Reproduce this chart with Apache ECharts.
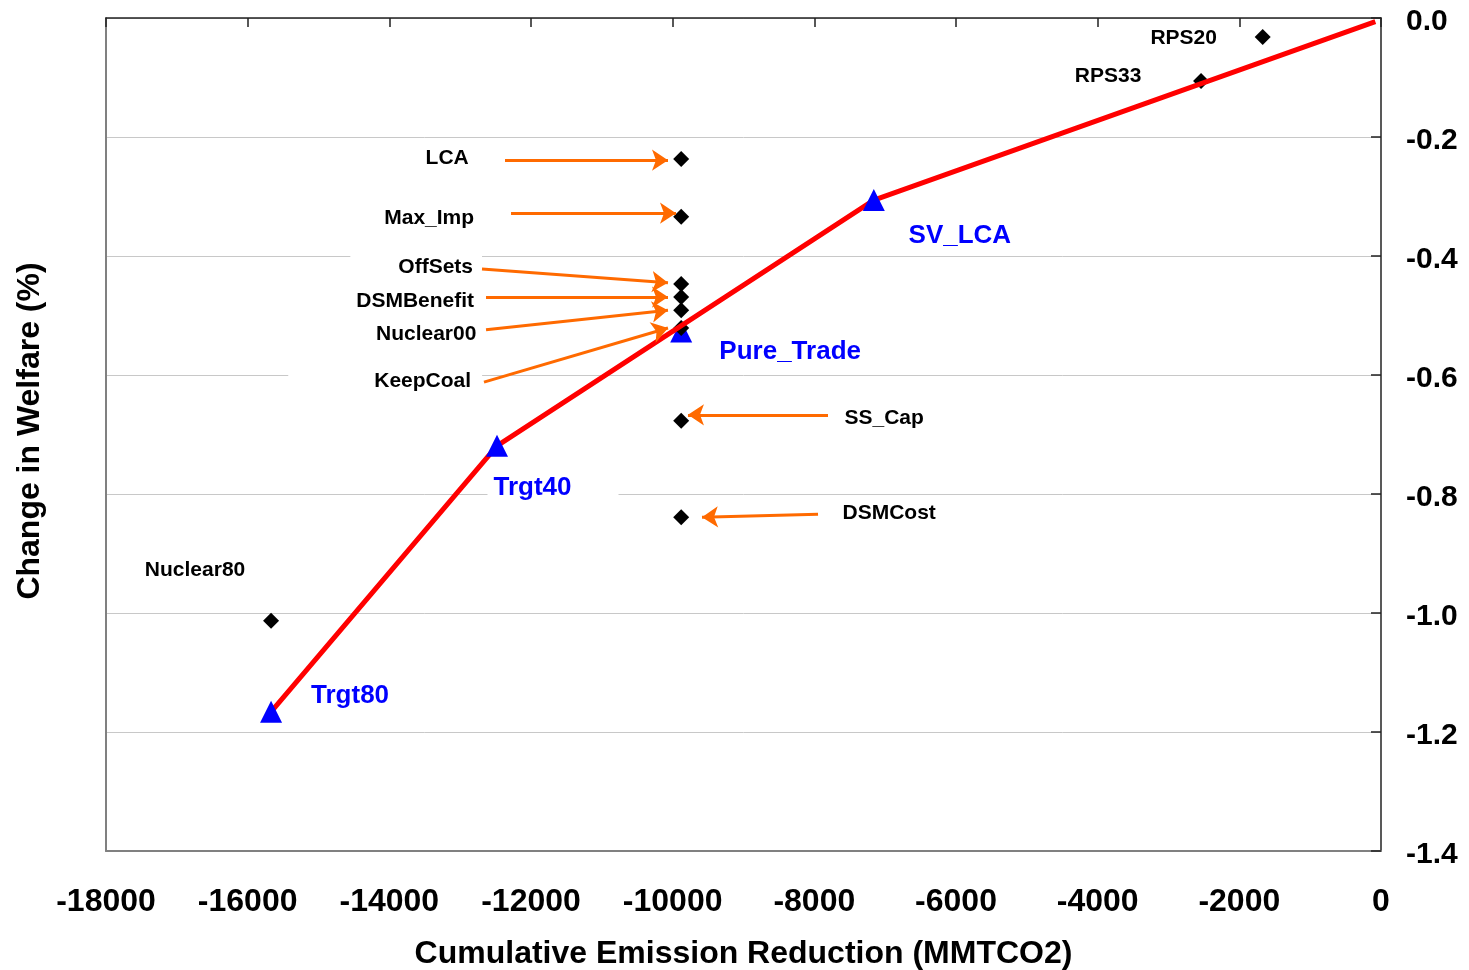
<!DOCTYPE html>
<html>
<head>
<meta charset="utf-8">
<script src="https://cdn.jsdelivr.net/npm/echarts@6/dist/echarts.min.js"></script>
<style>
html,body{margin:0;padding:0;background:#fff;}
#chart{width:1469px;height:970px;}
</style>
</head>
<body>
<div id="chart"></div>
<script>
// ---- Data ----
const xTickValues = [-18000, -16000, -14000, -12000, -10000, -8000, -6000, -4000, -2000, 0];
const yTickValues = [-1.4, -1.2, -1.0, -0.8, -0.6, -0.4, -0.2, 0.0];

// Red line path (target scenarios + end point)
const lineNames = ['Trgt80', 'Trgt40', 'SV_LCA', ''];
const lineX = [-15670, -12480, -7160, -80];
const lineY = [-1.166, -0.719, -0.306, -0.006];

// Separate triangle scenario
const pureNames = ['Pure_Trade'];
const pureX = [-9880];
const pureY = [-0.527];

// Diamond scenarios
const diaNames = ['RPS20', 'RPS33', 'LCA', 'Max_Imp', 'OffSets', 'DSMBenefit', 'Nuclear00', 'KeepCoal', 'SS_Cap', 'DSMCost', 'Nuclear80'];
const diaX = [-1670, -2540, -9880, -9880, -9880, -9880, -9880, -9880, -9880, -9880, -15670];
const diaY = [-0.032, -0.106, -0.237, -0.334, -0.447, -0.469, -0.491, -0.521, -0.677, -0.839, -1.013];

// Annotation arrows (from label to point), in data units
const arrowNames = ['LCA', 'Max_Imp', 'OffSets', 'DSMBenefit', 'Nuclear00', 'KeepCoal', 'SS_Cap', 'DSMCost'];
const arrowFromX = [-12367, -12282, -12692, -12635, -12635, -12664, -7807, -7948];
const arrowFromY = [-0.239, -0.328, -0.422, -0.469, -0.524, -0.612, -0.667, -0.834];
const arrowToX = [-10066, -9953, -10066, -10066, -10066, -10066, -9784, -9586];
const arrowToY = [-0.239, -0.328, -0.445, -0.469, -0.491, -0.521, -0.667, -0.839];

// ---- Styles ----
const FONT = '"Liberation Sans", Arial, Helvetica, sans-serif';
const BLUE = '#0000FF';
const RED = '#FF0000';
const ORANGE = '#FF6A00';

const labelStyles = {
  RPS20: {offset: [-79, 1]},
  RPS33: {offset: [-93, -5]},
  LCA: {offset: [-234, -1]},
  Max_Imp: {offset: [-252, 1]},
  OffSets: {offset: [-265, -17], padding: [3, 9, 3, 48], bg: true},
  DSMBenefit: {offset: [-266, 4]},
  Nuclear00: {offset: [-255, 24]},
  KeepCoal: {offset: [-296, 53], padding: [3, 11, 3, 86], bg: true},
  SS_Cap: {offset: [203, -3]},
  DSMCost: {offset: [208, -4]},
  Nuclear80: {offset: [-76, -51]},
  Trgt80: {offset: [79, -16]},
  Trgt40: {offset: [56, 42], padding: [7, 47, 2, 6], bg: true},
  Pure_Trade: {offset: [109, 20]},
  SV_LCA: {offset: [92, 36], padding: [2, 20, 10, 8], bg: true}
};

function makeLabel(name, color, size) {
  const s = labelStyles[name] || {offset: [0, 0]};
  const lbl = {
    show: true,
    position: 'inside',
    formatter: name,
    offset: s.offset,
    color: color,
    opacity: 1,
    fontSize: size,
    fontWeight: 'bold',
    fontFamily: FONT
  };
  if (s.bg) {
    lbl.backgroundColor = '#ffffff';
    lbl.padding = s.padding;
  }
  return lbl;
}

const lineData = lineX.map((x, i) => [x, lineY[i]]);
const triData = lineNames.slice(0, 3).map((n, i) => ({
  name: n, value: [lineX[i], lineY[i]], label: makeLabel(n, BLUE, 26)
}));
const pureData = pureNames.map((n, i) => ({
  name: n, value: [pureX[i], pureY[i]], label: makeLabel(n, BLUE, 26)
}));
const diaData = diaNames.map((n, i) => ({
  name: n, value: [diaX[i], diaY[i]], label: makeLabel(n, '#000', 21)
}));
const arrowData = arrowNames.map((n, i) => ({
  name: n, coords: [[arrowFromX[i], arrowFromY[i]], [arrowToX[i], arrowToY[i]]]
}));

const chart = echarts.init(document.getElementById('chart'), null, {renderer: 'canvas'});

const xCommon = {type: 'value', min: xTickValues[0], max: xTickValues[xTickValues.length - 1], interval: 2000};
const yCommon = {type: 'value', min: yTickValues[0], max: yTickValues[yTickValues.length - 1], interval: 0.2};

chart.setOption({
  animation: false,
  backgroundColor: '#ffffff',
  grid: {left: 106, right: 88, top: 18, bottom: 119, containLabel: false, outerBoundsMode: 'none'},
  xAxis: [
    Object.assign({}, xCommon, {
      position: 'bottom',
      axisLine: {show: true, onZero: false, lineStyle: {color: '#808080', width: 2}},
      axisTick: {show: false},
      splitLine: {show: false},
      axisLabel: {
        show: true, color: '#000', fontSize: 32, fontWeight: 'bold', fontFamily: FONT, margin: 35,
        formatter: v => String(Math.round(v))
      },
      name: 'Cumulative Emission Reduction (MMTCO2)',
      nameLocation: 'middle',
      nameGap: 87,
      nameTextStyle: {color: '#000', fontSize: 32, fontWeight: 'bold', fontFamily: FONT}
    }),
    Object.assign({}, xCommon, {
      position: 'top',
      axisLine: {show: true, onZero: false, lineStyle: {color: '#222', width: 1.5}},
      axisTick: {show: true, inside: true, length: 9, lineStyle: {color: '#222', width: 1.5}},
      axisLabel: {show: false},
      splitLine: {show: false}
    })
  ],
  yAxis: [
    Object.assign({}, yCommon, {
      position: 'right',
      axisLine: {show: true, onZero: false, lineStyle: {color: '#222', width: 1.5}},
      axisTick: {show: true, inside: true, length: 10, lineStyle: {color: '#222', width: 1.5}},
      axisLabel: {
        show: true, color: '#000', fontSize: 30, fontWeight: 'bold', fontFamily: FONT, margin: 25,
        verticalAlign: 'top', lineHeight: 8,
        formatter: v => (Math.abs(v) < 1e-9 ? '0.0' : v.toFixed(1))
      },
      splitLine: {show: true, lineStyle: {color: '#c8c8c8', width: 1}}
    }),
    Object.assign({}, yCommon, {
      position: 'left',
      axisLine: {show: true, onZero: false, lineStyle: {color: '#808080', width: 2}},
      axisTick: {show: false},
      axisLabel: {show: false},
      splitLine: {show: false},
      name: 'Change in Welfare (%)',
      nameLocation: 'middle',
      nameGap: 60,
      nameTextStyle: {color: '#000', fontSize: 32, fontWeight: 'bold', fontFamily: FONT, padding: [0, 0, 0, 7]}
    })
  ],
  series: [
    {
      name: 'Pure_Trade', type: 'scatter', xAxisIndex: 0, yAxisIndex: 0, z: 2,
      symbol: 'triangle', symbolSize: 22, itemStyle: {color: BLUE, opacity: 1},
      data: pureData
    },
    {
      name: 'Scenarios', type: 'scatter', xAxisIndex: 0, yAxisIndex: 0, z: 3,
      symbol: 'diamond', symbolSize: 16, itemStyle: {color: '#000', opacity: 1},
      data: diaData
    },
    {
      name: 'Path', type: 'line', xAxisIndex: 0, yAxisIndex: 0, z: 4,
      showSymbol: false, symbol: 'none',
      lineStyle: {color: RED, width: 5},
      data: lineData
    },
    {
      name: 'Targets', type: 'scatter', xAxisIndex: 0, yAxisIndex: 0, z: 5,
      symbol: 'triangle', symbolSize: 22, itemStyle: {color: BLUE, opacity: 1},
      data: triData
    },
    {
      name: 'Arrows', type: 'lines', coordinateSystem: 'cartesian2d', xAxisIndex: 0, yAxisIndex: 0, z: 6,
      symbol: ['none', 'arrow'], symbolSize: [12, 16],
      lineStyle: {color: ORANGE, width: 3, opacity: 1, curveness: 0},
      data: arrowData
    }
  ]
});
</script>
</body>
</html>
